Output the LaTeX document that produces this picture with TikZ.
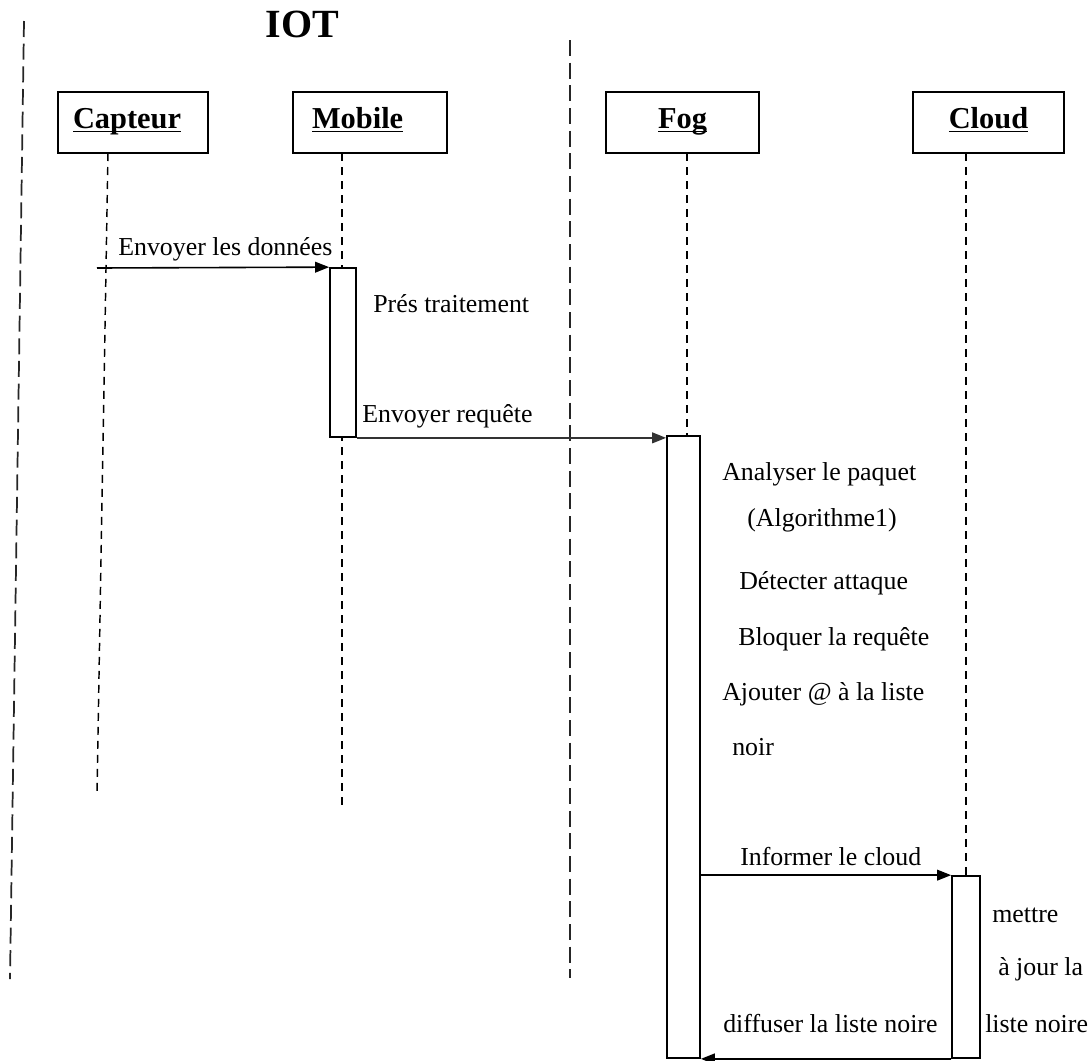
\documentclass[tikz,border=0pt]{standalone}
\usepackage{fontspec}
\setmainfont{Liberation Serif}
\usetikzlibrary{arrows.meta}
% underline drawn just under the baseline, crossing descenders
\newcommand\ulword[1]{\setbox0\hbox{#1}\rlap{\rule[-3pt]{\wd0}{1.1pt}}\box0}
\begin{document}
\begin{tikzpicture}[x=0.75pt,y=-0.75pt,
  actor/.style={draw=black,line width=1.5pt,fill=white,rectangle,
    minimum height=45.75pt,text height=11.25pt,text depth=3pt,
    font=\fontsize{22.8}{26}\selectfont\bfseries},
  activ/.style={draw=black,line width=1.3pt,fill=white,rectangle,inner sep=0pt},
  msg/.style={inner sep=0pt,anchor=base west,font=\fontsize{19.4}{22}\selectfont},
  life/.style={line width=1.1pt,dash pattern=on 6pt off 4.5pt},
  zone/.style={line width=1.3pt,dash pattern=on 12pt off 5pt,black!85},
  call/.style={line width=1.2pt,-{Triangle[length=10.5pt,width=8pt]}}]
\useasboundingbox (0,0) rectangle (1090,1061);

% zone separators
\coordinate (zlt) at (24,21);
\coordinate (zlb) at (10,979);
\coordinate (zmt) at (570,40);
\coordinate (zmb) at (570,978);
\draw[zone] (zlt) -- (zlb);
\draw[zone] (zmt) -- (zmb);

\node[inner sep=0pt,anchor=base,font=\fontsize{30}{34}\selectfont\bfseries] (iot) at (302.5,37) {IOT};

% participants
\node[actor,text width=90pt,inner xsep=11.25pt,align=left] (cap) at (133,122.5) {\ulword{Capteur}};
\node[actor,text width=87pt,inner xsep=14.25pt,align=left] (mob) at (370,122.5) {\ulword{Mobile}};
\node[actor,minimum width=114.75pt] (fog) at (682.5,122.5) {\ulword{Fog}};
\node[actor,minimum width=113.25pt] (cld) at (988.5,122.5) {\ulword{Cloud}};

% lifelines
\coordinate (capT) at (108,153);
\coordinate (capB) at (97,792);
\coordinate (mobT) at (342,153);
\coordinate (mobB) at (342,810);
\coordinate (fogT) at (687,153);
\coordinate (cldT) at (966,153);
\draw[life] (capT) -- (capB);
\draw[life] (mobT) -- (mobB);

% activation bars
\node[activ,minimum width=19.5pt,minimum height=126.75pt] (mact) at (343,352.5) {};
\node[activ,minimum width=24.75pt,minimum height=466.5pt] (fact) at (683.5,747) {};
\node[activ,minimum width=21pt,minimum height=136.5pt] (cact) at (966,967) {};
\draw[life] (fogT) -- (fogT |- fact.north);
\draw[life] (cldT) -- (cldT |- cact.north);

% messages
\coordinate (src) at (97,268);
\draw[call] (src) -- (mact.north west);
\node[msg] (t1) at (118,255) {Envoyer les données};
\node[msg] (t2) at (373,312) {Prés traitement};
\draw[call,line width=1.5pt,black!80] (mact.south east) -- (mact.south east -| fact.west);
\node[msg] (t3) at (362,422) {Envoyer requête};

\node[msg] (f1) at (722,480) {Analyser le paquet};
\node[msg] (f2) at (747,526) {(Algorithme1)};
\node[msg] (f3) at (739,589) {Détecter attaque};
\node[msg] (f4) at (738,645) {Bloquer la requête};
\node[msg] (f5) at (722,700) {Ajouter @ à la liste};
\node[msg] (f6) at (732,755) {noir};

\draw[call] (fact.east |- cact.north) -- (cact.north west);
\node[msg] (t4) at (740,865) {Informer le cloud};

\node[msg] (c1) at (992,922) {mettre};
\node[msg] (c2) at (998,975) {à jour la};
\node[msg] (c3) at (985,1032) {liste noire};

\draw[call] (cact.south west) -- (fact.south east);
\node[msg] (t5) at (723,1032) {diffuser la liste noire};
\end{tikzpicture}
\end{document}
